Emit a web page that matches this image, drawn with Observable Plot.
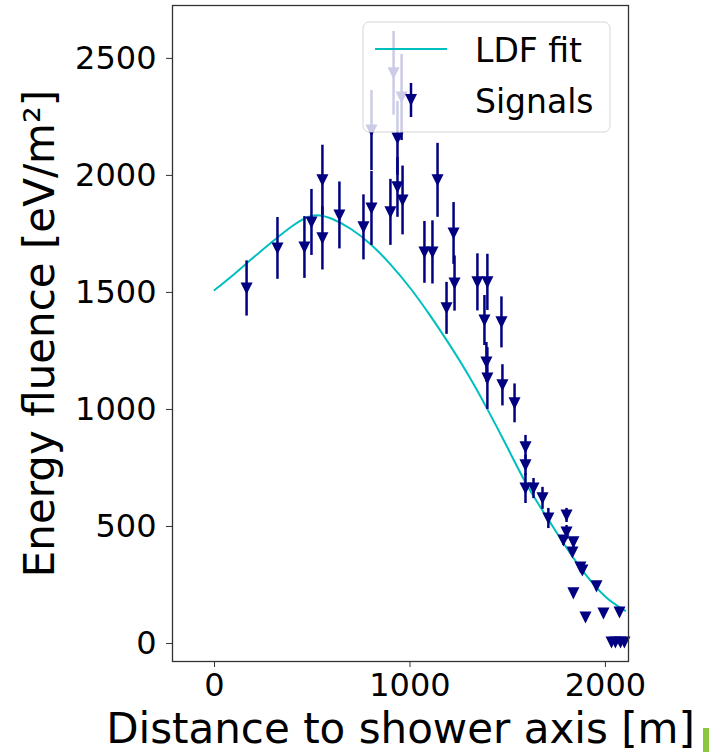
<!DOCTYPE html>
<html><head><meta charset="utf-8">
<script src="https://cdn.jsdelivr.net/npm/d3@7"></script>
<script src="https://cdn.jsdelivr.net/npm/@observablehq/plot@0.6"></script>
<style>body{margin:0;background:#fff} #chart{width:709px;height:752px}</style>
</head><body><div id="chart"></div>
<script>
// Signals (distance [m], energy fluence [eV/m^2], uncertainty)
const distance = [164,322,460,496,552,552,639,762,803,803,900,916,936,936,957,962,1141,1074,1115,1223,1228,1187,1345,1396,1381,1468,1391,1396,1473,1535,1591,1591,1591,1632,1678,1708,1801,1801,1785,1836,1831,1872,1882,1836,1954,1898,1990,2072,2031,2051,2077,2097];
const fluence  = [1517,1688,1692,1799,1979,1731,1829,1778,2192,1859,1842,2436,2158,1949,2333,1893,1979,1671,1671,1752,1538,1432,1543,1543,1380,1372,1201,1132,1103,1026,838,761,662,662,620,534,547,474,440,432,389,325,312,214,244,111,128,132,4,4,4,4];
const fluenceErr = [118,132,132,141,150,135,143,139,171,158,141,179,158,128,184,147,158,132,135,132,118,111,122,120,107,109,85,132,88,83,51,43,64,43,47,43,30,30,21,21,17,17,17,13,13,8,8,8,4,4,4,4];
// LDF fit curve
const fitDistance = [0,100,200,300,400,500,600,700,800,900,1000,1100,1200,1300,1400,1500,1600,1700,1800,1900,2000,2100];
const fitFluence  = [1510,1578,1650,1720,1785,1828,1815,1770,1705,1620,1520,1405,1280,1145,995,835,675,540,410,293,200,140];
const xTicks = [0,1000,2000];
const yTicks = [0,500,1000,1500,2000,2500];
const legendLabels = ["LDF fit","Signals"];
const xLabel = "Distance to shower axis [m]";
const yLabel = "Energy fluence [eV/m²]";

const signals = distance.map((d,i)=>({d, f: fluence[i], e: fluenceErr[i]}));
const fit = fitDistance.map((d,i)=>({d, f: fitFluence[i]}));

const triDown = { draw(ctx, size){ const s = Math.sqrt(size)/2; ctx.moveTo(-s,-s); ctx.lineTo(s,-s); ctx.lineTo(0,s); ctx.closePath(); } };
const navy = "#000080", cyan = "#00BFBF";
const font = "DejaVu Sans, sans-serif";

const plot = Plot.plot({
  width: 709, height: 752,
  marginLeft: 172, marginRight: 81, marginTop: 5, marginBottom: 91,
  style: {fontFamily: font, fontSize: "32px", background: "#fff", color: "#000"},
  x: {domain: [-215, 2118]},
  y: {domain: [-77, 2726]},
  marks: [
    Plot.line(fit, {x: "d", y: "f", stroke: cyan, strokeWidth: 2, curve: "natural"}),
    Plot.ruleX(signals, {x: "d", y1: s => s.f - s.e, y2: s => s.f + s.e, stroke: navy, strokeWidth: 2.5}),
    Plot.dot(signals, {x: "d", y: "f", symbol: triDown, r: 6.8, fill: navy, stroke: "none"}),
    Plot.frame({stroke: "#333", strokeWidth: 1.3}),
    Plot.axisX({ticks: xTicks, tickFormat: d3.format("d"), tickSize: 6, tickPadding: 6, label: null, stroke: "#333"}),
    Plot.axisY({ticks: yTicks, tickFormat: d3.format("d"), tickSize: 6, tickPadding: 10, label: null, stroke: "#333"}),
    Plot.text([xLabel], {frameAnchor: "bottom", dy: 68, fontSize: 42, lineAnchor: "middle", textAnchor: "middle", fill: "#000"}),
    Plot.text([yLabel], {frameAnchor: "left", dx: -132, rotate: -90, fontSize: 42, lineAnchor: "middle", textAnchor: "middle", fill: "#000"})
  ]
});
document.getElementById("chart").appendChild(plot);

// legend (matplotlib-style, semi-transparent box over the data)
const svg = d3.select(plot);
const lg = svg.append("g").attr("font-family", font).attr("font-size", 33).attr("text-anchor", "start");
lg.append("rect").attr("x", 363).attr("y", 22).attr("width", 247).attr("height", 110).attr("rx", 6)
  .attr("fill", "#fff").attr("fill-opacity", 0.8).attr("stroke", "#ccc").attr("stroke-opacity", 0.8);
lg.append("line").attr("x1", 375).attr("x2", 447).attr("y1", 49).attr("y2", 49).attr("stroke", cyan).attr("stroke-width", 2);
lg.append("line").attr("x1", 411).attr("x2", 411).attr("y1", 83).attr("y2", 117).attr("stroke", navy).attr("stroke-width", 2.5);
lg.append("path").attr("d", "M405,94L417,94L411,106Z").attr("fill", navy);
lg.selectAll("text.l").data(legendLabels).join("text").attr("x", 475).attr("y", (d,i)=>50 + i*51).attr("dy", "0.35em").attr("fill", "#000").text(d=>d);
svg.append("rect").attr("x", 703).attr("y", 728).attr("width", 6).attr("height", 24).attr("fill", "#8CC63E");
</script></body></html>
